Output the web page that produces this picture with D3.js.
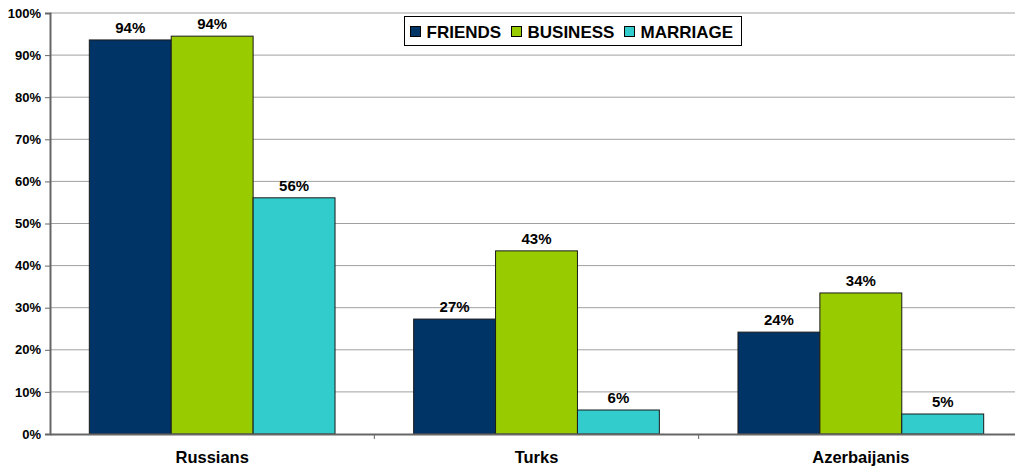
<!DOCTYPE html>
<html><head><meta charset="utf-8">
<script src="https://cdn.jsdelivr.net/npm/d3@7"></script>
<style>body{margin:0;background:#fff}svg{display:block}text{font-family:"Liberation Sans",Arial,sans-serif;font-weight:bold;fill:#000}</style>
</head><body><svg id="c" width="1015" height="471"></svg>
<script>
const categories = ["Russians", "Turks", "Azerbaijanis"];
const seriesNames = ["FRIENDS", "BUSINESS", "MARRIAGE"];
const friends = [93.6, 27.3, 24.2];
const business = [94.5, 43.5, 33.5];
const marriage = [56.1, 5.7, 4.75];
const valueLabels = [["94%", "27%", "24%"], ["94%", "43%", "34%"], ["56%", "6%", "5%"]];
const yTicks = [0, 10, 20, 30, 40, 50, 60, 70, 80, 90, 100];
const colors = ["#003366", "#99CC00", "#33CCCC"];

(function () {
const series = [friends, business, marriage];
const svg = d3.select("#c");
const mLeft = 50, mRight = 1023, mTop = 13, mBottom = 434;
const x = d3.scaleBand().domain(categories).range([mLeft, mRight]).paddingInner(0).paddingOuter(0);
const y = d3.scaleLinear().domain([0, 100]).range([mBottom, mTop]);
const xs = d3.scaleBand().domain(seriesNames).range([0, x.bandwidth()]).paddingInner(0).paddingOuter(0.48);

svg.append("g").selectAll("line").data(yTicks.filter(d => d > 0)).join("line")
  .attr("x1", mLeft).attr("x2", mRight).attr("y1", d => y(d)).attr("y2", d => y(d))
  .attr("stroke", "#a0a0a0").attr("stroke-width", 1);

series.forEach((vals, si) => {
  const g = svg.append("g");
  g.selectAll("rect").data(categories).join("rect")
    .attr("x", (c) => x(c) + xs(seriesNames[si]))
    .attr("y", (c, i) => y(vals[i]))
    .attr("width", xs.bandwidth())
    .attr("height", (c, i) => y(0) - y(vals[i]))
    .attr("fill", colors[si]).attr("stroke", "#1a1a1a").attr("stroke-width", 1);
  g.selectAll("text").data(categories).join("text")
    .attr("x", (c) => x(c) + xs(seriesNames[si]) + xs.bandwidth() / 2)
    .attr("y", (c, i) => y(vals[i]) - 7)
    .attr("text-anchor", "middle").attr("font-size", 15)
    .text((c, i) => valueLabels[si][i]);
});

const yAxis = d3.axisLeft(y).tickValues(yTicks).tickFormat(d => d + "%").tickSize(5).tickPadding(4);
const ya = svg.append("g").attr("transform", `translate(${mLeft},0)`).call(yAxis);
ya.select(".domain").attr("stroke", "#666").attr("stroke-width", 2);
ya.selectAll(".tick line").attr("stroke", "#666");
ya.selectAll("text").attr("font-size", 13).attr("fill", "#000");

const xa = svg.append("g").attr("transform", `translate(0,${mBottom})`)
  .call(d3.axisBottom(x).tickSize(0).tickPadding(17));
xa.select(".domain").attr("stroke", "#666").attr("stroke-width", 2);
xa.selectAll("text").attr("font-size", 16.5).attr("fill", "#000");
xa.selectAll(".sep").data(categories.slice(1)).join("line").attr("class", "sep")
  .attr("x1", d => x(d)).attr("x2", d => x(d)).attr("y1", 0).attr("y2", 5).attr("stroke", "#666");

const lg = svg.append("g");
lg.append("rect").attr("x", 404.5).attr("y", 16.5).attr("width", 337).attr("height", 29)
  .attr("fill", "#fff").attr("stroke", "#000");
const legX = [410.5, 511.5, 624.5];
seriesNames.forEach((n, i) => {
  lg.append("rect").attr("x", legX[i]).attr("y", 26.5).attr("width", 10).attr("height", 10)
    .attr("fill", colors[i]).attr("stroke", "#000");
  lg.append("text").attr("x", legX[i] + 16).attr("y", 38).attr("font-size", 17).text(n);
});
})();
</script></body></html>
